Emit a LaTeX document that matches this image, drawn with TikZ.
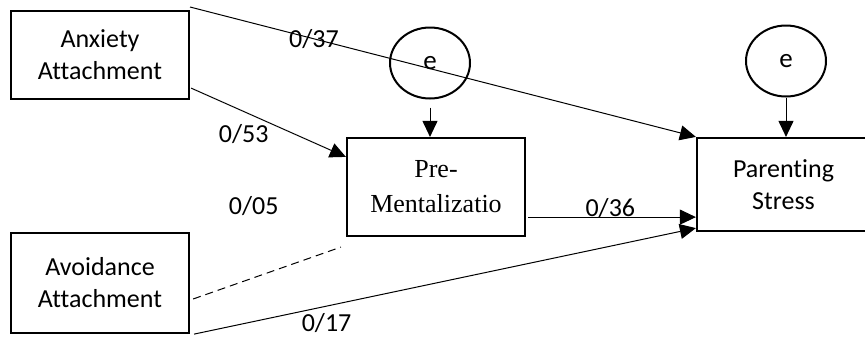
\documentclass[tikz,border=0pt]{standalone}
\usepackage{fontspec}
\setmainfont[Ligatures={NoCommon}]{Carlito}
\newfontfamily\timesfont{Liberation Serif}
\usetikzlibrary{arrows.meta,shapes.geometric,calc}
\tikzstyle{obs} = [rectangle, draw, line width=2.2pt, fill=white, align=center, inner sep=0pt, font=\fontsize{26}{32}\selectfont]
\tikzstyle{err} = [ellipse, draw, line width=2pt, minimum width=80pt, minimum height=71pt, inner sep=0pt, font=\fontsize{27}{32}\selectfont]
\tikzstyle{coef} = [font=\fontsize{26}{32}\selectfont, inner sep=0pt]

\begin{document}
\begin{tikzpicture}[x=1pt,y=-1pt,->,>={Triangle[length=16pt,width=15pt]},line width=1pt]
  \clip (0,0) rectangle (865,338);
  \node[obs, minimum width=178pt, minimum height=88pt] (anx) at (100,55) {Anxiety\\Attachment};
  \node[obs, minimum width=178pt, minimum height=100pt] (avo) at (100,283) {Avoidance\\Attachment};
  \node[obs, minimum width=178pt, minimum height=98pt, font=\timesfont\fontsize{26}{35}\selectfont] (pre) at (436,187) {Pre-\\Mentalizatio};
  \node[obs, minimum width=173pt, minimum height=93pt] (par) at (783.5,184.5) {Parenting\\Stress};
  \node[err] (e_pre) at (430,63) {e};
  \node[err] (e_par) at (786,61) {e};
  \coordinate (top_start) at (190,7);

  \draw (top_start) -- (par.north west) node[coef, pos=0.245] {0/37};
  \draw ($(anx.south east)+(1,-12)$) -- ($(pre.north west)+(0,20)$) node[coef, pos=0.34, yshift=-23pt] {0/53};
  \draw[-, dash pattern=on 8pt off 5pt] ($(avo.east)+(3,16)$) -- ($(pre.south west)+(-5,10)$) node[coef, pos=0.41, yshift=72pt] {0/05};
  \draw ($(pre.south east)+(2,-20)$) -- ($(par.south west)+(0,-15)$) node[coef, pos=0.49, yshift=9pt] {0/36};
  \draw ($(avo.south east)+(4,0)$) -- ($(par.south west)+(0,-4)$) node[coef, pos=0.264, yshift=-17pt] {0/17};
  \draw ($(e_pre.south)+(0,8)$) -- (e_pre.south |- pre.north);
  \draw (e_par.south) -- (e_par.south |- par.north);
\end{tikzpicture}
\end{document}
